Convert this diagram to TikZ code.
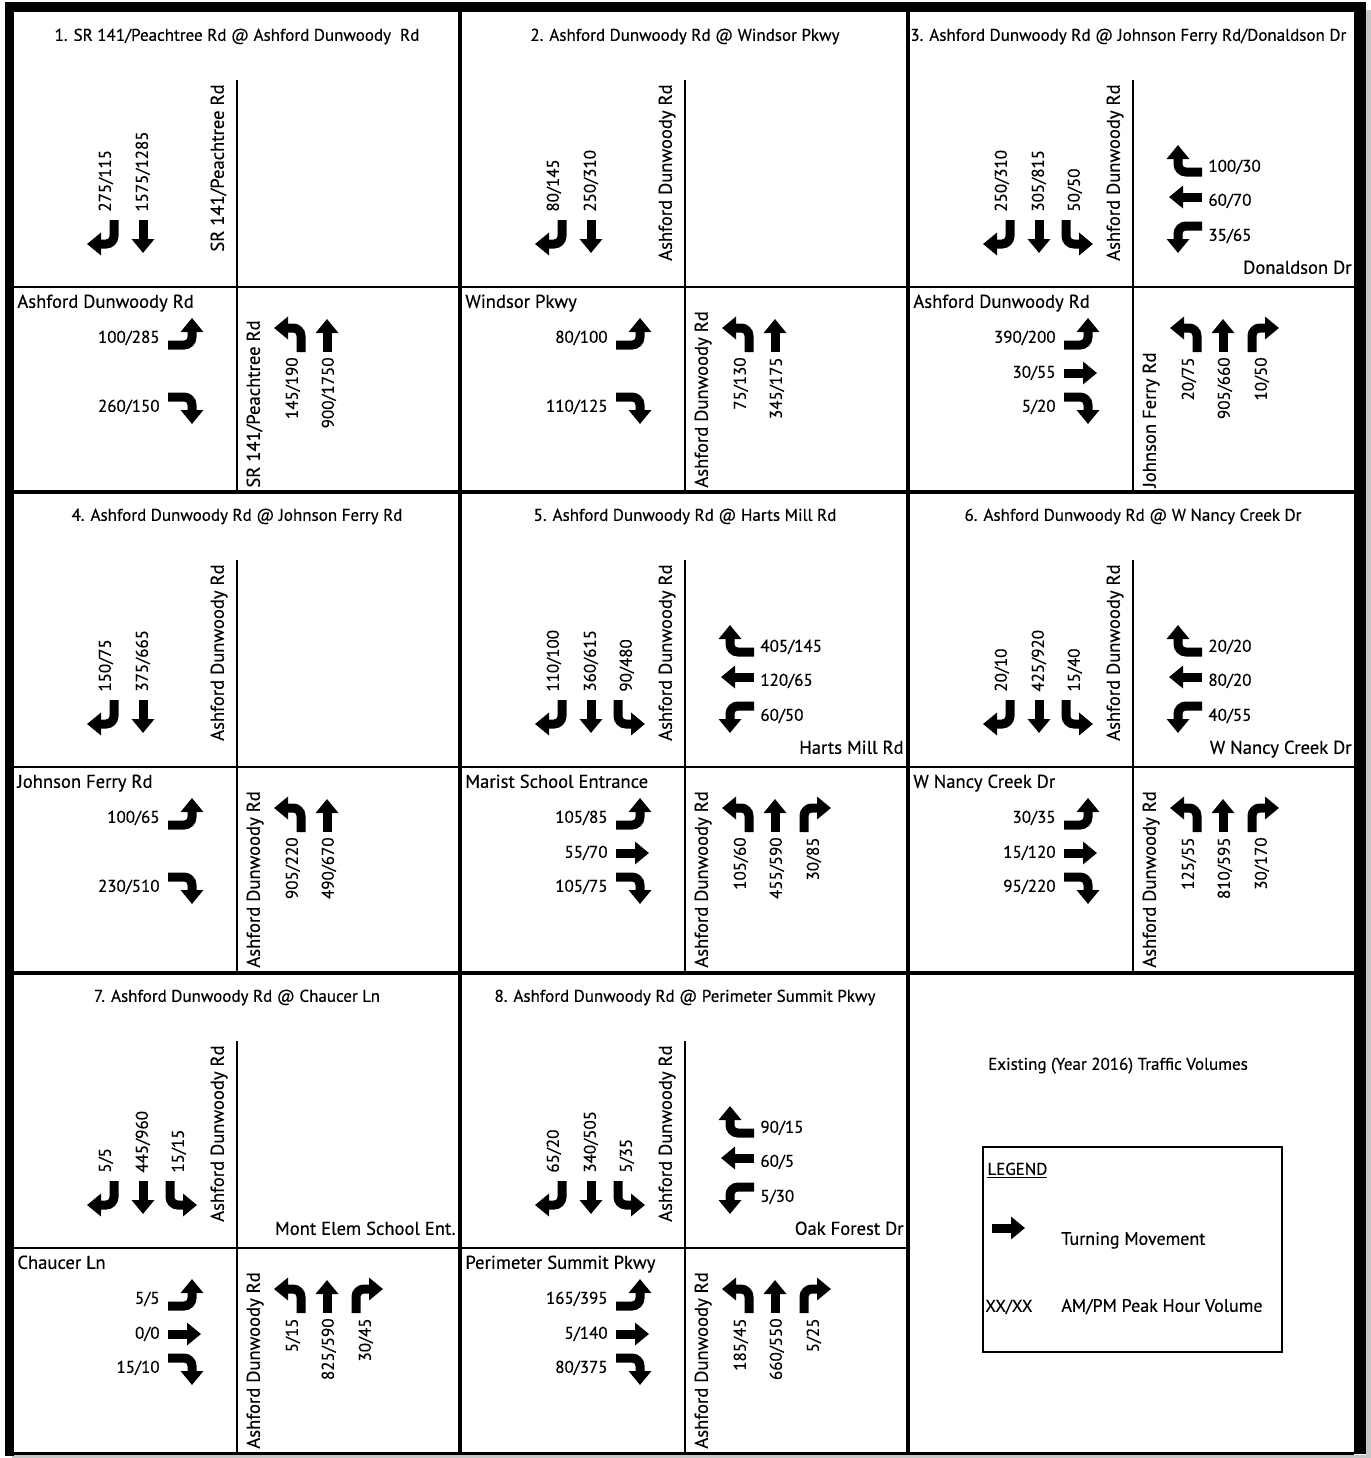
\documentclass[tikz,border=0pt]{standalone}
\usepackage{fontspec}
\setmainfont{PT Sans}[FakeBold=0.4]
\usetikzlibrary{arrows.meta}

% movement arrows, drawn for a northbound approach and turned
\tikzset{
  mv/.style={line width=4.5pt,-{Triangle[length=7pt,width=11pt]}},
  pics/thru/.style={code={\draw[mv] (0,0) -- (0,-33);}},
  pics/lturn/.style={code={\draw[mv,rounded corners=4pt] (0,0) |- (-27,-24);}},
  pics/rturn/.style={code={\draw[mv,rounded corners=4pt] (0,0) |- (27,-24);}},
}
\newcommand\sbR[2]{\pic[rotate=180] at (102,208) {rturn}; \node[rotate=90,anchor=west] (sbR#1) at (94,200) {#2};}
\newcommand\sbT[2]{\pic[rotate=180] at (131,208) {thru}; \node[rotate=90,anchor=west] (sbT#1) at (131,200) {#2};}
\newcommand\sbL[2]{\pic[rotate=180] at (158,208) {lturn}; \node[rotate=90,anchor=west] (sbL#1) at (167,200) {#2};}
\newcommand\nbL[2]{\pic at (289,340) {lturn}; \node[rotate=90,anchor=east] (nbL#1) at (281,345) {#2};}
\newcommand\nbT[2]{\pic at (315,340) {thru}; \node[rotate=90,anchor=east] (nbT#1) at (317,345) {#2};}
\newcommand\nbR[2]{\pic at (344,340) {rturn}; \node[rotate=90,anchor=east] (nbR#1) at (354,345) {#2};}
\newcommand\ebL[2]{\pic[rotate=-90] at (156,333) {lturn}; \node[anchor=east] (ebL#1) at (148,326) {#2};}
\newcommand\ebT[2]{\pic[rotate=-90] at (156,361) {thru}; \node[anchor=east] (ebT#1) at (148,361) {#2};}
\newcommand\ebR[2]{\pic[rotate=-90] at (156,385) {rturn}; \node[anchor=east] (ebR#1) at (148,395) {#2};}
\newcommand\wbR[2]{\pic[rotate=90] at (294,160) {rturn}; \node[anchor=west] (wbR#1) at (300,155) {#2};}
\newcommand\wbT[2]{\pic[rotate=90] at (294,185) {thru}; \node[anchor=west] (wbT#1) at (300,189) {#2};}
\newcommand\wbL[2]{\pic[rotate=90] at (294,214) {lturn}; \node[anchor=west] (wbL#1) at (300,224) {#2};}
\newcommand\panellines{\draw[road] (225,68) -- (225,481); \draw[road] (0,275) -- (448,275);}

\begin{document}
\begin{tikzpicture}[x=0.5pt,y=-0.5pt,
  every node/.style={inner sep=0pt,font=\fontsize{8.5}{10}\selectfont,
    text height=6.4pt,text depth=1.6pt},
  street/.style={font=\fontsize{9.3}{11}\selectfont},
  legtext/.style={font=\fontsize{9}{11}\selectfont,anchor=west},
  road/.style={line width=1.4pt},
  grid/.style={line width=2pt},
  mainN/.style={street,rotate=90,anchor=east},
  mainS/.style={street,rotate=90,anchor=west},
  xW/.style={street,anchor=west},
  xE/.style={street,anchor=east}]
\path[use as bounding box] (0,0) rectangle (1371,1458);

% 1
\begin{scope}[shift={(12,12)}]
\panellines
\node (t1) at (225,24) {1. SR 141/Peachtree Rd @ Ashford Dunwoody~ Rd};
\node[mainN] (n1) at (207,72) {SR 141/Peachtree Rd};
\sbR{1}{275/115} \sbT{1}{1575/1285}
\node[xW] (w1) at (5,291) {Ashford Dunwoody Rd};
\ebL{1}{100/285} \ebR{1}{260/150}
\node[mainS] (s1) at (243,476) {SR 141/Peachtree Rd};
\nbL{1}{145/190} \nbT{1}{900/1750}
\end{scope}

% 2
\begin{scope}[shift={(460,12)}]
\panellines
\node (t2) at (225,24) {2. Ashford Dunwoody Rd @ Windsor Pkwy};
\node[mainN] (n2) at (207,72) {Ashford Dunwoody Rd};
\sbR{2}{80/145} \sbT{2}{250/310}
\node[xW] (w2) at (5,291) {Windsor Pkwy};
\ebL{2}{80/100} \ebR{2}{110/125}
\node[mainS] (s2) at (243,476) {Ashford Dunwoody Rd};
\nbL{2}{75/130} \nbT{2}{345/175}
\end{scope}

% 3
\begin{scope}[shift={(908,12)}]
\panellines
\node[anchor=west] (t3) at (2,24) {3. Ashford Dunwoody Rd @ Johnson Ferry Rd/Donaldson Dr};
\node[mainN] (n3) at (207,72) {Ashford Dunwoody Rd};
\sbR{3}{250/310} \sbT{3}{305/815} \sbL{3}{50/50}
\wbR{3}{100/30} \wbT{3}{60/70} \wbL{3}{35/65}
\node[xE] (e3) at (444,257) {Donaldson Dr};
\node[xW] (w3) at (5,291) {Ashford Dunwoody Rd};
\ebL{3}{390/200} \ebT{3}{30/55} \ebR{3}{5/20}
\node[mainS] (s3) at (243,476) {Johnson Ferry Rd};
\nbL{3}{20/75} \nbT{3}{905/660} \nbR{3}{10/50}
\end{scope}

% 4
\begin{scope}[shift={(12,492)}]
\panellines
\node (t4) at (225,24) {4. Ashford Dunwoody Rd @ Johnson Ferry Rd};
\node[mainN] (n4) at (207,72) {Ashford Dunwoody Rd};
\sbR{4}{150/75} \sbT{4}{375/665}
\node[xW] (w4) at (5,291) {Johnson Ferry Rd};
\ebL{4}{100/65} \ebR{4}{230/510}
\node[mainS] (s4) at (243,476) {Ashford Dunwoody Rd};
\nbL{4}{905/220} \nbT{4}{490/670}
\end{scope}

% 5
\begin{scope}[shift={(460,492)}]
\panellines
\node (t5) at (225,24) {5. Ashford Dunwoody Rd @ Harts Mill Rd};
\node[mainN] (n5) at (207,72) {Ashford Dunwoody Rd};
\sbR{5}{110/100} \sbT{5}{360/615} \sbL{5}{90/480}
\wbR{5}{405/145} \wbT{5}{120/65} \wbL{5}{60/50}
\node[xE] (e5) at (444,257) {Harts Mill Rd};
\node[xW] (w5) at (5,291) {Marist School Entrance};
\ebL{5}{105/85} \ebT{5}{55/70} \ebR{5}{105/75}
\node[mainS] (s5) at (243,476) {Ashford Dunwoody Rd};
\nbL{5}{105/60} \nbT{5}{455/590} \nbR{5}{30/85}
\end{scope}

% 6
\begin{scope}[shift={(908,492)}]
\panellines
\node (t6) at (225,24) {6. Ashford Dunwoody Rd @ W Nancy Creek Dr};
\node[mainN] (n6) at (207,72) {Ashford Dunwoody Rd};
\sbR{6}{20/10} \sbT{6}{425/920} \sbL{6}{15/40}
\wbR{6}{20/20} \wbT{6}{80/20} \wbL{6}{40/55}
\node[xE] (e6) at (444,257) {W Nancy Creek Dr};
\node[xW] (w6) at (5,291) {W Nancy Creek Dr};
\ebL{6}{30/35} \ebT{6}{15/120} \ebR{6}{95/220}
\node[mainS] (s6) at (243,476) {Ashford Dunwoody Rd};
\nbL{6}{125/55} \nbT{6}{810/595} \nbR{6}{30/170}
\end{scope}

% 7
\begin{scope}[shift={(12,973)}]
\panellines
\node (t7) at (225,24) {7. Ashford Dunwoody Rd @ Chaucer Ln};
\node[mainN] (n7) at (207,72) {Ashford Dunwoody Rd};
\sbR{7}{5/5} \sbT{7}{445/960} \sbL{7}{15/15}
\node[xE] (e7) at (444,257) {Mont Elem School Ent.};
\node[xW] (w7) at (5,291) {Chaucer Ln};
\ebL{7}{5/5} \ebT{7}{0/0} \ebR{7}{15/10}
\node[mainS] (s7) at (243,476) {Ashford Dunwoody Rd};
\nbL{7}{5/15} \nbT{7}{825/590} \nbR{7}{30/45}
\end{scope}

% 8
\begin{scope}[shift={(460,973)}]
\panellines
\node (t8) at (225,24) {8. Ashford Dunwoody Rd @ Perimeter Summit Pkwy};
\node[mainN] (n8) at (207,72) {Ashford Dunwoody Rd};
\sbR{8}{65/20} \sbT{8}{340/505} \sbL{8}{5/35}
\wbR{8}{90/15} \wbT{8}{60/5} \wbL{8}{5/30}
\node[xE] (e8) at (444,257) {Oak Forest Dr};
\node[xW] (w8) at (5,291) {Perimeter Summit Pkwy};
\ebL{8}{165/395} \ebT{8}{5/140} \ebR{8}{80/375}
\node[mainS] (s8) at (243,476) {Ashford Dunwoody Rd};
\nbL{8}{185/45} \nbT{8}{660/550} \nbR{8}{5/25}
\end{scope}

% legend
\node (head) at (1118,1065) {Existing (Year 2016) Traffic Volumes};
\draw[line width=1pt] (983,1147) rectangle (1282,1352);
\node[anchor=west] (leg) at (987,1170) {\underline{LEGEND}};
\pic[rotate=-90] at (992,1228) {thru};
\node[legtext] (turn) at (1061,1240) {Turning Movement};
\node[anchor=west] (xx) at (985,1307) {XX/XX};
\node[legtext] (peak) at (1061,1307) {AM/PM Peak Hour Volume};

% grid and frame
\foreach \x in {460,908} \draw[grid] (\x,12) -- (\x,1453);
\foreach \y in {491.5,972.5} \draw[grid] (13,\y) -- (1354,\y);
\fill[gray!45] (1366,10) rectangle (1371,1458);
\fill[gray!45] (12,1455) rectangle (1371,1458);
\fill (5,2) rectangle (1366,12);
\fill (5,2) rectangle (14,1456);
\fill (1354,2) rectangle (1366,1454);
\fill (5,1452) rectangle (1354,1455);
\end{tikzpicture}
\end{document}
